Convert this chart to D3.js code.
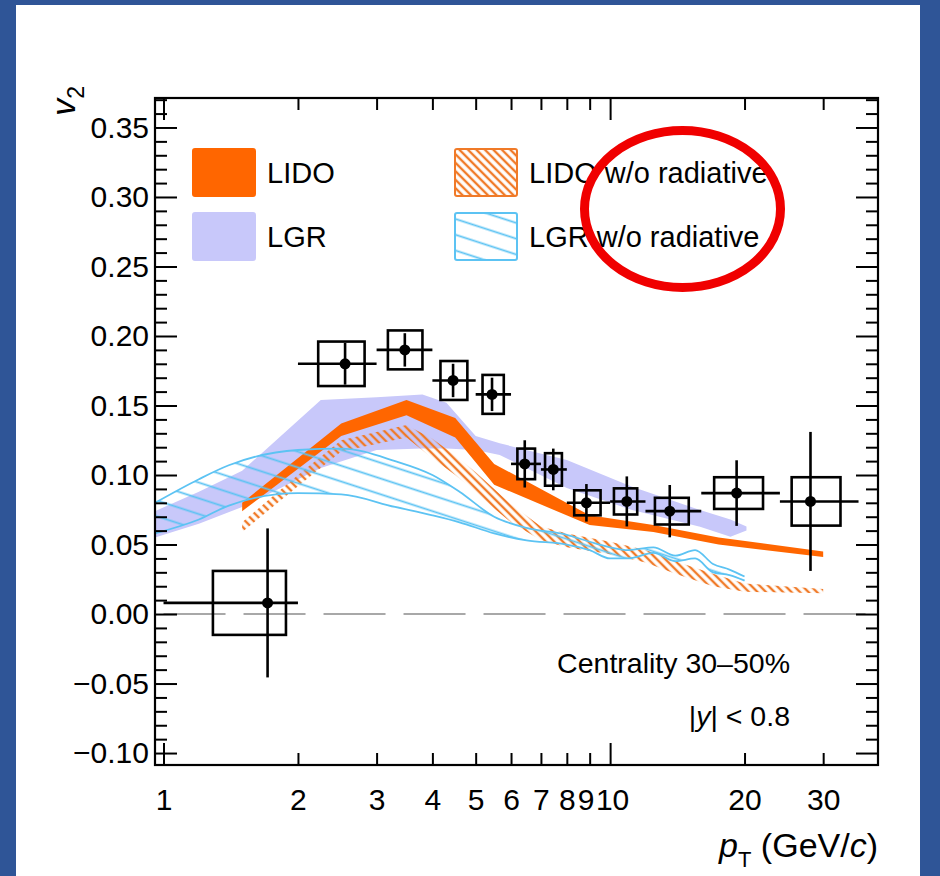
<!DOCTYPE html>
<html>
<head>
<meta charset="utf-8">
<script src="https://cdn.jsdelivr.net/npm/d3@7"></script>
<style>
  body { margin: 0; padding: 0; background: #2f5597; }
  svg { display: block; }
  text { font-family: "Liberation Sans", Arial, Helvetica, sans-serif; }
</style>
</head>
<body>
<svg id="chart" width="940" height="876"></svg>
<script>
// ---------------- data ----------------
const ptData   = [1.71, 2.55, 3.47, 4.45, 5.44, 6.44, 7.46, 8.85, 10.9, 13.6, 19.2, 28.1];
const v2Data   = [0.008, 0.180, 0.190, 0.168, 0.158, 0.108, 0.104, 0.080, 0.081, 0.074, 0.087, 0.081];
const ptBinLo  = [1, 2, 3, 4, 5, 6, 7, 8, 10, 12, 16, 24];
const ptBinHi  = [2, 3, 4, 5, 6, 7, 8, 10, 12, 16, 24, 36];
const statErr  = [0.0536, 0.015, 0.012, 0.012, 0.012, 0.017, 0.015, 0.0135, 0.018, 0.0188, 0.0236, 0.050];
const sysErr   = [0.023, 0.016, 0.014, 0.014, 0.014, 0.011, 0.0117, 0.009, 0.0094, 0.0096, 0.0114, 0.0174];
const sysPtLo  = [1.29, 2.22, 3.18, 4.17, 5.18, 6.2, 7.15, 8.31, 10.2, 12.6, 17.1, 25.5];
const sysPtHi  = [1.88, 2.82, 3.80, 4.79, 5.78, 6.79, 7.8, 9.52, 11.5, 15.0, 22.0, 32.8];

// LIDO (full)
const lidoPt = [1.5, 2.5, 3.5, 4.5, 5.5, 9.0, 12.5, 17.5, 30];
const lidoLo = [0.074, 0.128, 0.143, 0.127, 0.093, 0.064, 0.059, 0.050, 0.041];
const lidoHi = [0.080, 0.137, 0.154, 0.141, 0.108, 0.071, 0.064, 0.055, 0.045];

// LGR (full)
const lgrPt = [0.957, 1.2, 1.5, 2.25, 3.0, 3.8, 4.3, 5.0, 5.66, 8.0, 11.2, 15.9, 18.6, 20.2];
const lgrLo = [0.055, 0.065, 0.077, 0.105, 0.118, 0.119, 0.119, 0.118, 0.1144, 0.0906, 0.0748, 0.0628, 0.0556, 0.060];
const lgrHi = [0.074, 0.088, 0.103, 0.154, 0.156, 0.158, 0.152, 0.128, 0.1228, 0.1108, 0.0916, 0.0748, 0.068, 0.063];

// LIDO w/o radiative
const lidoColPt = [1.5, 2.0, 2.5, 3.5, 4.0, 4.5, 5.0, 5.5, 6.0, 7.0, 8.0, 10, 12, 14, 17, 20, 30];
const lidoColLo = [0.059, 0.092, 0.117, 0.127, 0.112, 0.100, 0.088, 0.076, 0.066, 0.053, 0.048, 0.043, 0.037, 0.029, 0.020, 0.016, 0.015];
const lidoColHi = [0.066, 0.100, 0.125, 0.136, 0.126, 0.114, 0.102, 0.090, 0.079, 0.063, 0.058, 0.052, 0.046, 0.038, 0.029, 0.022, 0.018];

// LGR w/o radiative
const lgrColPt = [0.957, 1.2, 1.4, 2.0, 2.5, 3.3, 4.0, 4.6, 5.5, 6.5, 8.0, 9.0, 10, 11, 12.5, 14, 15.5, 17, 18.5, 20];
const lgrColLo = [0.058, 0.068, 0.078, 0.087, 0.086, 0.077, 0.071, 0.066, 0.058, 0.053, 0.050, 0.046, 0.040, 0.040, 0.044, 0.038, 0.040, 0.030, 0.028, 0.024];
const lgrColHi = [0.080, 0.097, 0.107, 0.118, 0.119, 0.110, 0.100, 0.088, 0.070, 0.062, 0.057, 0.052, 0.048, 0.046, 0.048, 0.042, 0.046, 0.036, 0.032, 0.027];

// axes
const yMajorTicks = [-0.10, -0.05, 0.00, 0.05, 0.10, 0.15, 0.20, 0.25, 0.30, 0.35];
const xLabelTicks = [1, 2, 3, 4, 5, 6, 7, 8, 9, 10, 20, 30];
const xMajorTicks = [1, 10];
const xMinorTicks = [2, 3, 4, 5, 6, 7, 8, 9, 20, 30];

const legendLabels = ["LIDO", "LGR", "LIDO w/o radiative", "LGR w/o radiative"];

// ---------------- drawing ----------------
const svg = d3.select("#chart");
const L = 155, R = 878, T = 98, B = 765;

const x = d3.scaleLog().domain([0.957, 39.8]).range([L, R]);
const y = d3.scaleLinear().domain([-0.1086, 0.3712]).range([B, T]);

const C = {
  lido: "#ff6600",
  lgr: "#c8c8fa",
  lidoCol: "#f07a28",
  lgrCol: "#5cc3f3"
};

// background
svg.append("rect").attr("width", 940).attr("height", 876).attr("fill", "#2f5597");
svg.append("rect").attr("x", 16).attr("y", 5).attr("width", 904).attr("height", 871).attr("fill", "#ffffff");

const defs = svg.append("defs");
defs.append("clipPath").attr("id", "plotClip")
  .append("rect").attr("x", L).attr("y", T).attr("width", R - L).attr("height", B - T);

const pO = defs.append("pattern").attr("id", "hatchO")
  .attr("patternUnits", "userSpaceOnUse").attr("width", 6).attr("height", 6)
  .attr("patternTransform", "rotate(-45)");
pO.append("line").attr("x1", 3).attr("y1", 0).attr("x2", 3).attr("y2", 6)
  .attr("stroke", C.lidoCol).attr("stroke-width", 2.4);

const pB = defs.append("pattern").attr("id", "hatchB")
  .attr("patternUnits", "userSpaceOnUse").attr("width", 20).attr("height", 15)
  .attr("patternTransform", "rotate(18)");
pB.append("line").attr("x1", 0).attr("y1", 7.5).attr("x2", 20).attr("y2", 7.5)
  .attr("stroke", C.lgrCol).attr("stroke-width", 1.8);

const plot = svg.append("g").attr("clip-path", "url(#plotClip)");

function bandData(pt, lo, hi) { return pt.map((p, i) => ({ p, lo: lo[i], hi: hi[i] })); }
const area = d3.area().x(d => x(d.p)).y0(d => y(d.lo)).y1(d => y(d.hi));
const lineHi = d3.line().x(d => x(d.p)).y(d => y(d.hi)).curve(d3.curveMonotoneX);
const lineLo = d3.line().x(d => x(d.p)).y(d => y(d.lo)).curve(d3.curveMonotoneX);
const areaSmooth = d3.area().x(d => x(d.p)).y0(d => y(d.lo)).y1(d => y(d.hi)).curve(d3.curveMonotoneX);

// zero line
plot.append("line")
  .attr("x1", x(1)).attr("x2", R).attr("y1", y(0)).attr("y2", y(0))
  .attr("stroke", "#a8a8a8").attr("stroke-width", 2).attr("stroke-dasharray", "62,18");

// LGR band
plot.append("path").datum(bandData(lgrPt, lgrLo, lgrHi))
  .attr("d", area).attr("fill", C.lgr);

// LIDO band
plot.append("path").datum(bandData(lidoPt, lidoLo, lidoHi))
  .attr("d", area).attr("fill", C.lido);

// LIDO w/o radiative
plot.append("path").datum(bandData(lidoColPt, lidoColLo, lidoColHi))
  .attr("d", area).attr("fill", "url(#hatchO)");

// LGR w/o radiative
const lgrColD = bandData(lgrColPt, lgrColLo, lgrColHi);
plot.append("path").datum(lgrColD).attr("d", areaSmooth).attr("fill", "url(#hatchB)");
plot.append("path").datum(lgrColD).attr("d", lineHi).attr("fill", "none")
  .attr("stroke", C.lgrCol).attr("stroke-width", 1.8);
plot.append("path").datum(lgrColD).attr("d", lineLo).attr("fill", "none")
  .attr("stroke", C.lgrCol).attr("stroke-width", 1.8);

// data points
const pts = ptData.map((p, i) => ({
  p, v: v2Data[i], blo: ptBinLo[i], bhi: ptBinHi[i], st: statErr[i], sy: sysErr[i],
  slo: sysPtLo[i], shi: sysPtHi[i]
}));
const gPts = plot.append("g");
gPts.selectAll("rect.sys").data(pts).join("rect").attr("class", "sys")
  .attr("x", d => x(d.slo)).attr("width", d => x(d.shi) - x(d.slo))
  .attr("y", d => y(d.v + d.sy)).attr("height", d => y(d.v - d.sy) - y(d.v + d.sy))
  .attr("fill", "none").attr("stroke", "#000").attr("stroke-width", 2.6);
gPts.selectAll("line.h").data(pts).join("line").attr("class", "h")
  .attr("x1", d => x(d.blo)).attr("x2", d => x(d.bhi))
  .attr("y1", d => y(d.v)).attr("y2", d => y(d.v))
  .attr("stroke", "#000").attr("stroke-width", 2.6);
gPts.selectAll("line.v").data(pts).join("line").attr("class", "v")
  .attr("x1", d => x(d.p)).attr("x2", d => x(d.p))
  .attr("y1", d => y(d.v + d.st)).attr("y2", d => y(d.v - d.st))
  .attr("stroke", "#000").attr("stroke-width", 2.6);
gPts.selectAll("circle").data(pts).join("circle")
  .attr("cx", d => x(d.p)).attr("cy", d => y(d.v)).attr("r", 5.5).attr("fill", "#000");

// axes
const fmtY = d3.format(".2f");
const yMinor = d3.range(-10, 38).map(k => k / 100).filter(v => !yMajorTicks.some(m => Math.abs(m - v) < 1e-9));

function styleAxis(g) {
  g.select(".domain").remove();
  g.selectAll("line").attr("stroke", "#000").attr("stroke-width", 2);
  g.selectAll("text").attr("fill", "#000").style("font-size", "30px")
    .style("font-family", '"Liberation Sans", Arial, Helvetica, sans-serif');
}
// left
svg.append("g").attr("transform", `translate(${L},0)`)
  .call(d3.axisLeft(y).tickValues(yMajorTicks).tickSize(-22).tickSizeOuter(0).tickPadding(6).tickFormat(fmtY))
  .call(styleAxis);
svg.append("g").attr("transform", `translate(${L},0)`)
  .call(d3.axisLeft(y).tickValues(yMinor).tickSize(-12).tickSizeOuter(0).tickFormat(""))
  .call(styleAxis);
// right
svg.append("g").attr("transform", `translate(${R},0)`)
  .call(d3.axisRight(y).tickValues(yMajorTicks).tickSize(-22).tickSizeOuter(0).tickFormat(""))
  .call(styleAxis);
svg.append("g").attr("transform", `translate(${R},0)`)
  .call(d3.axisRight(y).tickValues(yMinor).tickSize(-12).tickSizeOuter(0).tickFormat(""))
  .call(styleAxis);
// bottom
svg.append("g").attr("transform", `translate(0,${B})`)
  .call(d3.axisBottom(x).tickValues(xMajorTicks).tickSize(-22).tickSizeOuter(0).tickFormat(""))
  .call(styleAxis);
svg.append("g").attr("transform", `translate(0,${B})`)
  .call(d3.axisBottom(x).tickValues(xMinorTicks).tickSize(-12).tickSizeOuter(0).tickFormat(""))
  .call(styleAxis);
const xLab = svg.append("g").attr("transform", `translate(0,${B})`)
  .call(d3.axisBottom(x).tickValues(xLabelTicks).tickSize(0).tickSizeOuter(0).tickPadding(24).tickFormat(d3.format("d")))
  .call(styleAxis);
// crowded labels 9 and 10 sit slightly apart, as in the reference
xLab.selectAll(".tick text").attr("dx", d => d === 9 ? -4 : (d === 10 ? 2 : 0));
// top
svg.append("g").attr("transform", `translate(0,${T})`)
  .call(d3.axisTop(x).tickValues(xMajorTicks).tickSize(-22).tickSizeOuter(0).tickFormat(""))
  .call(styleAxis);
svg.append("g").attr("transform", `translate(0,${T})`)
  .call(d3.axisTop(x).tickValues(xMinorTicks).tickSize(-12).tickSizeOuter(0).tickFormat(""))
  .call(styleAxis);

// frame
svg.append("rect").attr("x", L).attr("y", T).attr("width", R - L).attr("height", B - T)
  .attr("fill", "none").attr("stroke", "#000").attr("stroke-width", 2.2);

// axis titles
const yt = svg.append("text").attr("transform", "translate(75,86) rotate(-90)")
  .attr("text-anchor", "end").style("font-size", "34px").attr("fill", "#000");
yt.append("tspan").text("v").style("font-style", "italic");
yt.append("tspan").text("2").attr("dy", 9).style("font-size", "23px");

const xt = svg.append("text").attr("x", R).attr("y", 857).attr("text-anchor", "end")
  .style("font-size", "34px").attr("fill", "#000");
xt.append("tspan").text("p").style("font-style", "italic");
xt.append("tspan").text("T").attr("dy", 10).style("font-size", "22px");
xt.append("tspan").text(" (GeV/").attr("dy", -10);
xt.append("tspan").text("c").style("font-style", "italic");
xt.append("tspan").text(")");

// annotations
svg.append("text").attr("x", 790).attr("y", 673).attr("text-anchor", "end")
  .style("font-size", "28.5px").attr("fill", "#000").text("Centrality 30\u201350%");
const yy = svg.append("text").attr("x", 790).attr("y", 726).attr("text-anchor", "end")
  .style("font-size", "28.5px").attr("fill", "#000");
yy.append("tspan").text("|");
yy.append("tspan").text("y").style("font-style", "italic");
yy.append("tspan").text("| < 0.8");

// legend
const leg = svg.append("g");
const legItems = [
  { label: legendLabels[0], x: 193, y: 149, fill: C.lido, stroke: C.lido },
  { label: legendLabels[1], x: 193, y: 213, fill: C.lgr, stroke: C.lgr },
  { label: legendLabels[2], x: 455, y: 149, fill: "url(#hatchO)", stroke: C.lidoCol },
  { label: legendLabels[3], x: 455, y: 213, fill: "url(#hatchB)", stroke: C.lgrCol }
];
legItems.forEach(it => {
  leg.append("rect").attr("x", it.x).attr("y", it.y).attr("width", 62).attr("height", 47)
    .attr("rx", 2).attr("fill", it.fill).attr("stroke", it.stroke).attr("stroke-width", 2);
  leg.append("text").attr("x", it.x + 74).attr("y", it.y + 34)
    .style("font-size", "29px").attr("fill", "#000").text(it.label);
});

// red highlight ellipse
svg.append("ellipse").attr("cx", 682.5).attr("cy", 209).attr("rx", 98).attr("ry", 78.5)
  .attr("fill", "none").attr("stroke", "#f00000").attr("stroke-width", 9);
</script>
</body>
</html>
